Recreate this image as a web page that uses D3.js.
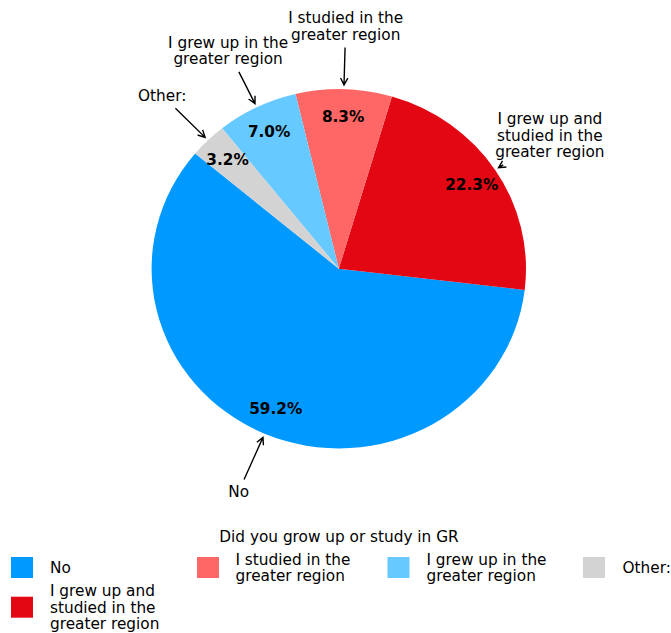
<!DOCTYPE html>
<html>
<head>
<meta charset="utf-8">
<script src="https://cdn.jsdelivr.net/npm/d3@7"></script>
<style>
  html, body { margin: 0; padding: 0; background: #fff; }
  svg { display: block; font-family: "DejaVu Sans", sans-serif; }
</style>
</head>
<body>
<svg id="chart" width="671" height="633"></svg>
<script>
// Survey answers: "Did you grow up or study in GR"
const categories = [
  "No",
  "I grew up and studied in the greater region",
  "I studied in the greater region",
  "I grew up in the greater region",
  "Other:"
];
// Wrapped display lines for each category
const categoryLines = [
  ["No"],
  ["I grew up and", "studied in the", "greater region"],
  ["I studied in the", "greater region"],
  ["I grew up in the", "greater region"],
  ["Other:"]
];
const shares = [59.2, 22.3, 8.3, 7.0, 3.2];
const colors = ["#0099ff", "#e30613", "#ff6666", "#66c9ff", "#d3d3d3"];
const legendTitle = "Did you grow up or study in GR";

const svg = d3.select("#chart");
const fontSize = 15.3;
const lineGap = 16.5;

// pie geometry (the plot area is slightly wider than tall)
const cx = 338.8, cy = 268.7, rx = 187.2, ry = 179.7;
const R = 100;
const deg = Math.PI / 180;
const start = -50.1 * deg;

const data = categories.map((c, i) => ({ name: c, lines: categoryLines[i], value: shares[i], color: colors[i] }));

// wedges run counter-clockwise from the start angle
const pie = d3.pie().sort(null).value(d => d.value)
  .startAngle(start).endAngle(start - 2 * Math.PI);
const arcs = pie(data);

const arc = d3.arc().innerRadius(0).outerRadius(R);

const pieG = svg.append("g")
  .attr("transform", `translate(${cx},${cy}) scale(${rx / R},${ry / R})`);

pieG.selectAll("path").data(arcs).join("path")
  .attr("d", arc)
  .attr("fill", d => d.data.color);

function pointAt(a, k) {
  return [cx + k * rx * Math.sin(a), cy - k * ry * Math.cos(a)];
}

// percentage labels inside wedges
svg.append("g").selectAll("text").data(arcs).join("text")
  .each(function (d) {
    const a = (d.startAngle + d.endAngle) / 2;
    const [x, y] = pointAt(a, 0.85);
    d3.select(this).attr("x", x).attr("y", y);
  })
  .attr("text-anchor", "middle")
  .attr("dy", "0.36em")
  .attr("font-size", fontSize)
  .attr("font-weight", "bold")
  .attr("fill", "#000")
  .text(d => d.data.value.toFixed(1) + "%");

// outer annotations with arrows
const annG = svg.append("g");
arcs.forEach(d => {
  const a = (d.startAngle + d.endAngle) / 2;
  const [tx, ty] = pointAt(a, 1.35);
  const [ex, ey] = pointAt(a, 1.0);
  const n = d.data.lines.length;
  const t = annG.append("text")
    .attr("text-anchor", "middle")
    .attr("font-size", fontSize)
    .attr("fill", "#000");
  d.data.lines.forEach((ln, i) => {
    t.append("tspan")
      .attr("x", tx)
      .attr("y", ty + (i - (n - 1) / 2) * lineGap)
      .attr("dy", "0.36em")
      .text(ln);
  });
  const bb = t.node().getBBox();
  const pad = 3.5;
  const x0 = bb.x - pad, x1 = bb.x + bb.width + pad;
  const y0 = bb.y - pad, y1 = bb.y + bb.height + pad;
  const dx = ex - tx, dy = ey - ty;
  // exit point of the segment from the padded text box
  let tExit = Infinity;
  if (dx > 0) tExit = Math.min(tExit, (x1 - tx) / dx);
  if (dx < 0) tExit = Math.min(tExit, (x0 - tx) / dx);
  if (dy > 0) tExit = Math.min(tExit, (y1 - ty) / dy);
  if (dy < 0) tExit = Math.min(tExit, (y0 - ty) / dy);
  const sx = tx + dx * tExit, sy = ty + dy * tExit;
  const len = Math.hypot(dx, dy);
  const ux = dx / len, uy = dy / len;
  const shrink = 4;
  const hx = ex - ux * shrink, hy = ey - uy * shrink;
  const hl = 7, hw = 3.6;
  const px = -uy, py = ux;
  annG.append("path")
    .attr("d", `M${sx},${sy}L${hx},${hy}` +
      `M${hx - ux * hl + px * hw},${hy - uy * hl + py * hw}L${hx},${hy}` +
      `L${hx - ux * hl - px * hw},${hy - uy * hl - py * hw}`)
    .attr("fill", "none")
    .attr("stroke", "#000")
    .attr("stroke-width", 1.4);
});

// legend
const leg = svg.append("g");
leg.append("text")
  .attr("x", 339).attr("y", 542)
  .attr("text-anchor", "middle")
  .attr("font-size", fontSize)
  .text(legendTitle);

const legendPos = [
  { sx: 11, tx: 50, cy: 567.5 },
  { sx: 11, tx: 50, cy: 607.2 },
  { sx: 197, tx: 235.5, cy: 567.5 },
  { sx: 387.5, tx: 426.5, cy: 567.5 },
  { sx: 583, tx: 622.5, cy: 567.5 }
];
data.forEach((d, i) => {
  const p = legendPos[i];
  leg.append("rect")
    .attr("x", p.sx).attr("y", p.cy - 10.5)
    .attr("width", 22).attr("height", 21)
    .attr("fill", d.color);
  const n = d.lines.length;
  const t = leg.append("text").attr("font-size", fontSize).attr("fill", "#000");
  d.lines.forEach((ln, j) => {
    t.append("tspan")
      .attr("x", p.tx)
      .attr("y", p.cy + (j - (n - 1) / 2) * lineGap)
      .attr("dy", "0.36em")
      .text(ln);
  });
});
</script>
</body>
</html>
